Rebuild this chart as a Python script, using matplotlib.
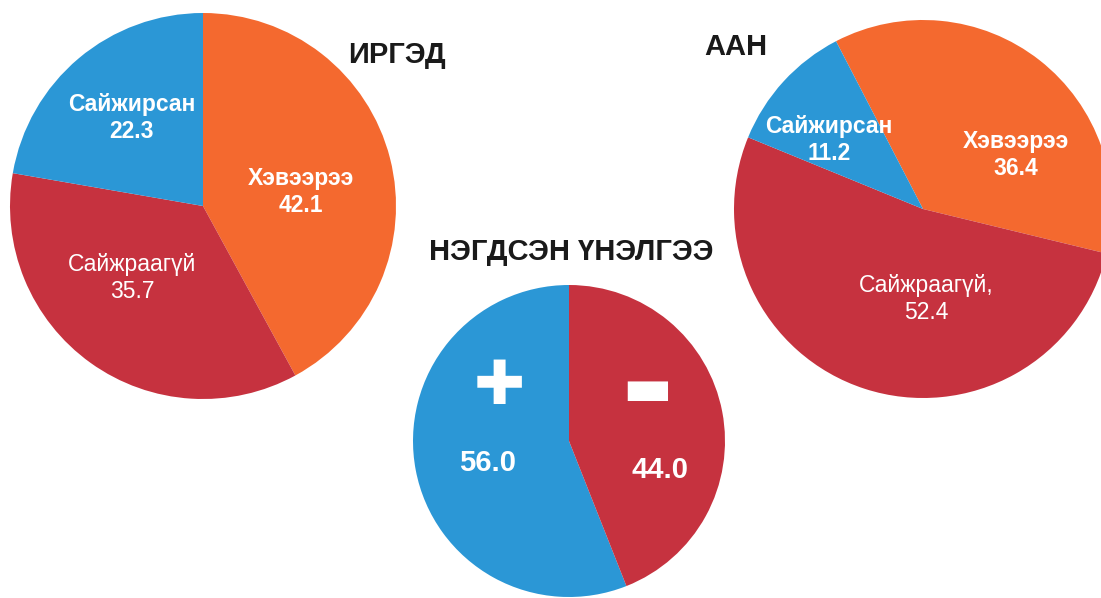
import matplotlib.pyplot as plt

plt.rcParams["font.family"] = ["Liberation Sans", "DejaVu Sans"]

BLUE = "#2b97d6"
ORANGE = "#f4692f"
RED = "#c6323f"

# ИРГЭД
citizen_labels = ["Хэвээрээ", "Сайжраагүй", "Сайжирсан"]
citizen_values = [42.1, 35.7, 22.3]

# ААН
company_labels = ["Хэвээрээ", "Сайжраагүй,", "Сайжирсан"]
company_values = [36.4, 52.4, 11.2]

# НЭГДСЭН ҮНЭЛГЭЭ
overall_signs = ["✚", "▬"]
overall_values = [56.0, 44.0]

W, H = 1101, 598
fig = plt.figure(figsize=(W / 100, H / 100), dpi=100)
ax = fig.add_axes([0, 0, 1, 1])


def img(x, y):
    # picture coordinates (y down) -> axes data (y up)
    return x, H - y


def fmt(v):
    return f"{v:.1f}"


# left pie
ax.pie(citizen_values, colors=[ORANGE, RED, BLUE], startangle=90,
       counterclock=False, center=img(203, 206), radius=193)
left_pos = [(301, 192), (132, 278), (132, 118)]
left_bold = ["bold", "normal", "bold"]
for lab, v, p, w in zip(citizen_labels, citizen_values, left_pos, left_bold):
    ax.text(*img(*p), f"{lab}\n{fmt(v)}", color="white", fontsize=16.5,
            fontweight=w, ha="center", va="center", linespacing=1.2)

# right pie
ax.pie(company_values, colors=[ORANGE, RED, BLUE], startangle=117.4,
       counterclock=False, center=img(923, 209), radius=189)
right_pos = [(1016, 155), (926, 299), (829, 140)]
right_bold = ["bold", "normal", "bold"]
for lab, v, p, w in zip(company_labels, company_values, right_pos, right_bold):
    ax.text(*img(*p), f"{lab}\n{fmt(v)}", color="white", fontsize=16.5,
            fontweight=w, ha="center", va="center", linespacing=1.2)

# middle pie
ax.pie(overall_values, colors=[BLUE, RED], startangle=90,
       center=img(569, 441), radius=156)
sign_pos = [(499, 388), (647, 390)]
sign_size = [44, 38]
num_pos = [(488, 463), (660, 470)]
for s, v, sp, fs, npos in zip(overall_signs, overall_values, sign_pos,
                              sign_size, num_pos):
    ax.text(*img(*sp), s, color="white", fontsize=fs, ha="center",
            va="center", family="DejaVu Sans")
    ax.text(*img(*npos), fmt(v), color="white", fontsize=21,
            fontweight="bold", ha="center", va="center")

title_kw = dict(fontsize=21, fontweight="bold", color="#1a1a1a",
                ha="center", va="center")
ax.text(*img(397, 55), "ИРГЭД", **title_kw)
ax.text(*img(736, 47), "ААН", **title_kw)
ax.text(*img(571, 252), "НЭГДСЭН ҮНЭЛГЭЭ", **title_kw)

ax.set_xlim(0, W)
ax.set_ylim(0, H)
ax.set_aspect("equal")
ax.axis("off")

fig.savefig("out.png", dpi=100)
